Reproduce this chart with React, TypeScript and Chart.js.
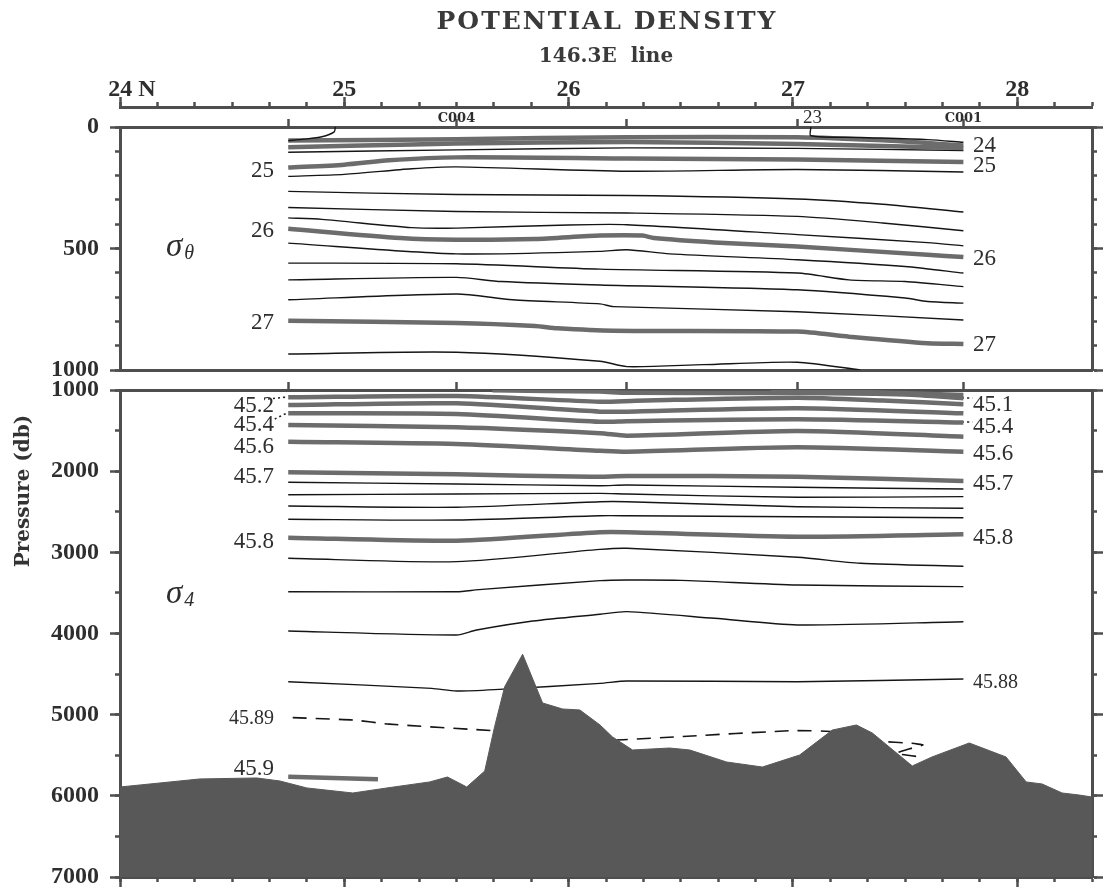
import React, { useEffect, useRef } from 'react';
import { Chart, registerables } from 'chart.js';

Chart.register(...registerables);

// ---------------- axes ----------------
const X_MIN = 24;
const X_MAX = 28 + 1 / 3;
const STATION_LATS = [24.75, 25.5, 26.26, 27.02, 27.76];
const STATION_LABELS = ['', 'C004', '', '', 'C001'];
const LAT_MAJOR = [24, 25, 26, 27, 28];
const LAT_LABELS = ['    24 N', '25', '26', '27', '28'];
const LAT_MINOR: number[] = [];
for (let i = 0; i <= 26; i++) LAT_MINOR.push(24 + i / 6);

const TOP_P_MIN = 0;
const TOP_P_MAX = 1000;
const TOP_TICKS_MINOR = [0, 100, 200, 300, 400, 500, 600, 700, 800, 900, 1000];
const TOP_TICKS_MAJOR = [0, 500, 1000];
const BOT_P_MIN = 1000;
const BOT_P_MAX = 7000;
const BOT_TICKS_MINOR = [1000, 1500, 2000, 2500, 3000, 3500, 4000, 4500, 5000, 5500, 6000, 6500, 7000];
const BOT_TICKS_MAJOR = [1000, 2000, 3000, 4000, 5000, 6000, 7000];

// ---------------- sigma-theta contours (lat, pressure) ----------------
type Pt = [number, number];
const SIG23_W: Pt[] = [[24.96, 0], [24.955, 20], [24.9, 40], [24.82, 50], [24.75, 56]];
const SIG23_E: Pt[] = [[27.08, 0], [27.08, 36], [27.3, 43], [27.6, 52], [27.76, 63]];
const SIG24_0: Pt[] = [[24.75, 56], [25.5, 50], [26.26, 42], [27.02, 42], [27.4, 55], [27.76, 76]];
const SIG24_5: Pt[] = [[24.75, 83], [25.3, 72], [25.5, 68], [26.26, 62], [27.02, 70], [27.4, 78], [27.76, 86]];
const SIG24_8: Pt[] = [[24.75, 104], [25.5, 94], [26.26, 86], [27.02, 88], [27.76, 97]];
const SIG25_0: Pt[] = [[24.75, 167], [25.0, 155], [25.2, 137], [25.5, 125], [26.26, 130], [27.02, 134], [27.76, 144]];
const SIG25_2: Pt[] = [[24.75, 203], [25.0, 195], [25.3, 172], [25.5, 164], [26.26, 182], [27.02, 175], [27.76, 185]];
const SIG25_4: Pt[] = [[24.75, 265], [25.5, 278], [26.26, 282], [27.02, 296], [27.4, 318], [27.76, 350]];
const SIG25_6: Pt[] = [[24.75, 331], [25.5, 348], [26.26, 354], [27.02, 368], [27.4, 395], [27.76, 427]];
const SIG25_8: Pt[] = [[24.75, 374], [24.9, 380], [25.3, 414], [25.5, 416], [26.0, 403], [26.26, 402], [27.02, 443], [27.6, 476], [27.76, 489]];
const SIG26_0: Pt[] = [[24.75, 419], [25.25, 457], [25.5, 464], [25.85, 461], [26.14, 447], [26.33, 447], [26.38, 457], [26.65, 475], [27.02, 492], [27.6, 526], [27.76, 535]];
const SIG26_2: Pt[] = [[24.75, 478], [25.5, 522], [26.14, 512], [26.26, 505], [26.45, 522], [27.02, 546], [27.5, 574], [27.76, 601]];
const SIG26_4: Pt[] = [[24.75, 560], [25.5, 563], [26.14, 585], [27.02, 601], [27.25, 629], [27.5, 636], [27.76, 657]];
const SIG26_6: Pt[] = [[24.75, 629], [25.5, 619], [25.7, 636], [26.14, 650], [27.02, 670], [27.5, 704], [27.6, 718], [27.76, 725]];
const SIG26_8: Pt[] = [[24.75, 711], [25.5, 687], [25.75, 711], [26.14, 728], [26.2, 739], [27.02, 760], [27.76, 794]];
const SIG27_0: Pt[] = [[24.75, 797], [25.5, 807], [25.85, 819], [25.95, 828], [26.2, 838], [27.02, 842], [27.25, 863], [27.6, 890], [27.76, 893]];
const SIG27_2: Pt[] = [[24.75, 934], [25.5, 927], [26.14, 964], [26.26, 986], [26.6, 978], [27.02, 968], [27.3, 1000]];

// ---------------- sigma-4 contours (lat, pressure) ----------------
const S45_1: Pt[] = [[25.66, 1004], [26.14, 1020], [26.26, 1035], [27.02, 1037], [27.5, 1055], [27.76, 1102]];
const S45_1B: Pt[] = [[26.9, 1012], [27.4, 1030], [27.76, 1062]];
const S45_2: Pt[] = [[24.75, 1090], [25.5, 1074], [26.14, 1144], [26.3, 1132], [27.02, 1095], [27.4, 1130], [27.76, 1176]];
const S45_3: Pt[] = [[24.75, 1185], [25.5, 1164], [26.14, 1267], [26.26, 1267], [27.02, 1225], [27.76, 1287]];
const S45_4: Pt[] = [[24.75, 1287], [25.5, 1296], [26.14, 1391], [26.26, 1385], [27.02, 1360], [27.76, 1400]];
const S45_5: Pt[] = [[24.75, 1431], [25.5, 1460], [26.14, 1533], [26.26, 1563], [27.02, 1505], [27.76, 1575]];
const S45_6: Pt[] = [[24.75, 1637], [25.5, 1665], [26.14, 1748], [26.26, 1760], [27.02, 1706], [27.76, 1760]];
const S45_7: Pt[] = [[24.75, 2014], [25.5, 2039], [26.1, 2070], [26.26, 2060], [27.02, 2068], [27.76, 2121]];
const S45_72: Pt[] = [[24.75, 2137], [25.5, 2158], [26.14, 2179], [26.26, 2170], [27.02, 2199], [27.76, 2220]];
const S45_74: Pt[] = [[24.75, 2290], [25.5, 2281], [26.14, 2273], [26.26, 2281], [27.02, 2322], [27.76, 2314]];
const S45_76: Pt[] = [[24.75, 2429], [25.5, 2445], [26.14, 2376], [26.26, 2376], [27.02, 2438], [27.76, 2457]];
const S45_78: Pt[] = [[24.75, 2593], [25.5, 2602], [26.14, 2549], [26.26, 2549], [27.02, 2561], [27.76, 2573]];
const S45_8: Pt[] = [[24.75, 2820], [25.5, 2857], [26.14, 2753], [26.26, 2753], [27.02, 2807], [27.76, 2778]];
const S45_82: Pt[] = [[24.75, 3073], [25.5, 3115], [26.14, 2963], [26.26, 2950], [27.02, 3061], [27.3, 3135], [27.76, 3172]];
const S45_84: Pt[] = [[24.75, 3485], [25.5, 3485], [25.6, 3460], [26.14, 3349], [26.26, 3341], [26.5, 3345], [27.02, 3402], [27.76, 3423]];
const S45_86: Pt[] = [[24.75, 3969], [25.5, 4018], [25.59, 3957], [25.84, 3846], [26.14, 3763], [26.26, 3731], [26.65, 3813], [27.02, 3895], [27.76, 3855]];
const S45_88: Pt[] = [[24.75, 4594], [25.39, 4676], [25.5, 4709], [25.69, 4688], [26.14, 4614], [26.26, 4585], [27.02, 4594], [27.76, 4561]];
const S45_89: Pt[] = [[24.77, 5037], [25.04, 5066], [25.2, 5117], [25.66, 5197], [26.0, 5260], [26.2, 5312], [26.49, 5271], [27.0, 5197], [27.18, 5210], [27.38, 5325], [27.53, 5353], [27.58, 5374], [27.52, 5420], [27.46, 5476], [27.58, 5525]];
const S45_9: Pt[] = [[24.75, 5764], [25.15, 5796]];

// label leaders (dotted)
const LEAD_L_452: Pt[] = [[24.66, 1111], [24.745, 1086]];
const LEAD_L_454: Pt[] = [[24.69, 1357], [24.745, 1283]];
const LEAD_R_451: Pt[] = [[27.754, 1099], [27.8, 1099]];
const LEAD_R_454: Pt[] = [[27.754, 1394], [27.8, 1394]];

// ---------------- bottom topography ----------------
const BATHY_LAT = [24.0, 24.356, 24.61, 24.713, 24.833, 25.038, 25.19, 25.38, 25.46, 25.546, 25.626, 25.67, 25.715, 25.795, 25.884, 25.973, 26.05, 26.14, 26.196, 26.285, 26.45, 26.54, 26.704, 26.864, 27.03, 27.176, 27.283, 27.354, 27.532, 27.62, 27.786, 27.95, 28.04, 28.111, 28.2, 28.276, 28.333];
const BATHY_P = [5891, 5792, 5780, 5817, 5903, 5965, 5903, 5829, 5768, 5891, 5694, 5148, 4655, 4256, 4856, 4930, 4942, 5127, 5275, 5435, 5411, 5435, 5583, 5645, 5497, 5189, 5127, 5226, 5632, 5521, 5349, 5521, 5829, 5854, 5965, 5990, 6014];

// ---------------- contour labels ----------------
const LABEL_LAT_L = 24.687;
const LABEL_LAT_R = 27.803;
const TOP_LBL_L = ['25', '26', '27'];
const TOP_LBL_L_P = [175, 423, 802];
const TOP_LBL_R = ['24', '25', '26', '27'];
const TOP_LBL_R_P = [72, 155, 538, 889];
const BOT_LBL_L = ['45.2', '45.4', '45.6', '45.7', '45.8', '45.89', '45.9'];
const BOT_LBL_L_P = [1172, 1407, 1678, 2047, 2848, 5029, 5645];
const BOT_LBL_R = ['45.1', '45.4', '45.6', '45.7', '45.8', '45.88'];
const BOT_LBL_R_P = [1160, 1431, 1764, 2133, 2799, 4585];

// ---------------- styles ----------------
const AX = '#4e4e4e';
const TXT = '#2e2e2e';
const SERIF = '"Liberation Serif", "Times New Roman", serif';
const TICK_FONT = 'Liberation Serif';
const BOLD_SERIF = 'DejaVu Serif';
const LBL_SIZE = 23;
const LBL_SIZE_SMALL = 20;

const STYLE: Record<string, any> = {
  thick: { borderColor: '#6c6c6c', borderWidth: 4.5 },
  thin: { borderColor: '#151515', borderWidth: 1.4 },
  dash: { borderColor: '#151515', borderWidth: 1.6, borderDash: [14, 9] },
  dot: { borderColor: '#222222', borderWidth: 1.6, borderDash: [2, 3] },
};

function lineDs(pts: Pt[], kind: string) {
  return {
    type: 'line',
    data: pts.map(([x, y]) => ({ x, y })),
    ...STYLE[kind],
    pointRadius: 0,
    fill: false,
    tension: kind === 'dash' ? 0.15 : 0.25,
    borderCapStyle: 'butt',
    borderJoinStyle: 'round',
    xAxisID: 'x',
    yAxisID: 'y',
  };
}

const border = { display: true, color: AX, width: 3 };
const fixedTicks = (values: number[]) => (s: any) => {
  s.ticks = values.map((v) => ({ value: v }));
};
const xBase = { type: 'linear', min: X_MIN, max: X_MAX };

function yScales(min: number, max: number, minor: number[], major: number[]) {
  const base = { type: 'linear', min, max, reverse: true };
  const grid = (len: number) => ({ drawOnChartArea: false, tickLength: len, tickWidth: 2.5, tickColor: AX });
  return {
    y: { ...base, position: 'left', weight: 0, afterBuildTicks: fixedTicks(minor), ticks: { display: false }, grid: grid(5), border, afterFit: (s: any) => { s.width = 0; } },
    yL: {
      ...base, position: 'left', weight: 1, afterBuildTicks: fixedTicks(major),
      ticks: { color: TXT, padding: 11, autoSkip: false, font: { family: TICK_FONT, size: 24, weight: 'bold' }, callback: (v: any) => String(v) },
      grid: grid(10), border,
      afterFit: (s: any) => { s.width = 120; s.paddingTop = 0; s.paddingBottom = 0; },
    },
    yR: { ...base, position: 'right', weight: 0, afterBuildTicks: fixedTicks(minor), ticks: { display: false }, grid: grid(5), border, afterFit: (s: any) => { s.width = 0; } },
    yR2: { ...base, position: 'right', weight: 1, afterBuildTicks: fixedTicks(major), ticks: { display: false }, grid: grid(11), border, afterFit: (s: any) => { s.width = 17; } },
  };
}

type Lbl = { text: string; lat: number; p: number; align: CanvasTextAlign; size: number; italic?: boolean; sub?: string; subSize?: number };

function makeTextPlugin(id: string, labels: Lbl[], extra: (ctx: CanvasRenderingContext2D) => void) {
  return {
    id,
    afterDatasetsDraw(chart: any) {
      const ctx = chart.ctx as CanvasRenderingContext2D;
      const xs = chart.scales.x;
      const ys = chart.scales.y;
      ctx.save();
      ctx.fillStyle = TXT;
      ctx.textBaseline = 'alphabetic';
      for (const l of labels) {
        const px = xs.getPixelForValue(l.lat);
        const py = ys.getPixelForValue(l.p);
        ctx.font = `${l.italic ? 'italic ' : ''}${l.size}px ${SERIF}`;
        ctx.textAlign = l.align;
        const base = py + l.size * (l.italic ? 0.26 : 0.33);
        ctx.fillText(l.text, px, base);
        if (l.sub) {
          const w = ctx.measureText(l.text).width;
          ctx.font = `${l.italic ? 'italic ' : ''}${l.subSize}px ${SERIF}`;
          ctx.textAlign = 'left';
          ctx.fillText(l.sub, px + w + 2, base + 3);
        }
      }
      extra(ctx);
      ctx.restore();
    },
  };
}

function leftRight(textsL: string[], pL: number[], textsR: string[], pR: number[], sizesL?: number[], sizesR?: number[]): Lbl[] {
  const out: Lbl[] = [];
  textsL.forEach((t, i) => out.push({ text: t, lat: LABEL_LAT_L, p: pL[i], align: 'right', size: sizesL ? sizesL[i] : LBL_SIZE }));
  textsR.forEach((t, i) => out.push({ text: t, lat: LABEL_LAT_R, p: pR[i], align: 'left', size: sizesR ? sizesR[i] : LBL_SIZE }));
  return out;
}

function topConfig(): any {
  const contours: [Pt[], string][] = [
    [SIG23_W, 'thin'], [SIG23_E, 'thin'], [SIG24_0, 'thick'], [SIG24_5, 'thick'], [SIG24_8, 'thin'],
    [SIG25_0, 'thick'], [SIG25_2, 'thin'], [SIG25_4, 'thin'], [SIG25_6, 'thin'], [SIG25_8, 'thin'],
    [SIG26_0, 'thick'], [SIG26_2, 'thin'], [SIG26_4, 'thin'], [SIG26_6, 'thin'], [SIG26_8, 'thin'],
    [SIG27_0, 'thick'], [SIG27_2, 'thin'],
  ];
  const labels = leftRight(TOP_LBL_L, TOP_LBL_L_P, TOP_LBL_R, TOP_LBL_R_P);
  labels.push({ text: '23', lat: 27.045, p: -43, align: 'left', size: 19 });
  labels.push({ text: 'σ', lat: 24.205, p: 497, align: 'left', size: 33, italic: true, sub: 'θ', subSize: 20 });
  const plugin = makeTextPlugin('topTexts', labels, (ctx) => {
    ctx.fillStyle = '#3a3a3a';
    ctx.textAlign = 'center';
    ctx.textBaseline = 'middle';
    (ctx as any).letterSpacing = '2px';
    ctx.font = `bold 25px "${BOLD_SERIF}"`;
    ctx.fillText('POTENTIAL DENSITY', 607, 22);
    (ctx as any).letterSpacing = '0px';
    ctx.font = `bold 20px "${BOLD_SERIF}"`;
    ctx.fillText('146.3E  line', 606, 57);
  });
  return {
    type: 'line',
    data: { datasets: contours.map(([p, k]) => lineDs(p, k)) },
    plugins: [plugin],
    options: {
      responsive: false,
      animation: false,
      events: [],
      layout: { padding: { top: 60, bottom: 522, left: 0, right: 0 } },
      plugins: { legend: { display: false }, tooltip: { enabled: false }, title: { display: false } },
      scales: {
        x: { ...xBase, position: 'bottom', weight: 0, ticks: { display: false }, grid: { drawOnChartArea: false, drawTicks: false }, border, afterFit: (s: any) => { s.height = 0; } },
        xSt: {
          ...xBase, position: 'top', weight: 0, afterBuildTicks: fixedTicks(STATION_LATS),
          ticks: { autoSkip: false, maxRotation: 0, padding: -7, color: TXT, font: { family: BOLD_SERIF, size: 13, weight: 'bold' }, callback: (_v: any, i: number) => STATION_LABELS[i] },
          grid: { drawOnChartArea: false, tickLength: 8, tickWidth: 2.5, tickColor: AX }, border, afterFit: (s: any) => { s.height = 20; },
        },
        xLatMinor: {
          ...xBase, position: 'top', weight: 1, afterBuildTicks: fixedTicks(LAT_MINOR), ticks: { display: false },
          grid: { drawOnChartArea: false, tickLength: 5, tickWidth: 2.5, tickColor: AX }, border, afterFit: (s: any) => { s.height = 0; },
        },
        xLatMajor: {
          ...xBase, position: 'top', weight: 2, afterBuildTicks: fixedTicks(LAT_MAJOR),
          ticks: { autoSkip: false, maxRotation: 0, padding: -7, color: TXT, font: { family: TICK_FONT, size: 24, weight: 'bold' }, callback: (_v: any, i: number) => LAT_LABELS[i] },
          grid: { drawOnChartArea: false, tickLength: 10, tickWidth: 2.5, tickColor: AX }, border,
          afterFit: (s: any) => { s.height = 47; s.paddingLeft = 0; s.paddingRight = 0; },
        },
        ...yScales(TOP_P_MIN, TOP_P_MAX, TOP_TICKS_MINOR, TOP_TICKS_MAJOR),
      },
    },
  };
}

function botConfig(): any {
  const contours: [Pt[], string][] = [
    [S45_1, 'thick'], [S45_1B, 'thick'], [S45_2, 'thick'], [S45_3, 'thick'], [S45_4, 'thick'], [S45_5, 'thick'],
    [S45_6, 'thick'], [S45_7, 'thick'], [S45_72, 'thin'], [S45_74, 'thin'], [S45_76, 'thin'], [S45_78, 'thin'],
    [S45_8, 'thick'], [S45_82, 'thin'], [S45_84, 'thin'], [S45_86, 'thin'], [S45_88, 'thin'], [S45_89, 'dash'],
    [S45_9, 'thick'], [LEAD_L_452, 'dot'], [LEAD_L_454, 'dot'], [LEAD_R_451, 'dot'], [LEAD_R_454, 'dot'],
  ];
  const bathy = {
    type: 'line',
    data: BATHY_LAT.map((x, i) => ({ x, y: BATHY_P[i] })),
    borderColor: '#585858',
    backgroundColor: '#585858',
    borderWidth: 1,
    pointRadius: 0,
    tension: 0,
    fill: { value: BOT_P_MAX },
    xAxisID: 'x',
    yAxisID: 'y',
  };
  const labels = leftRight(
    BOT_LBL_L, BOT_LBL_L_P, BOT_LBL_R, BOT_LBL_R_P,
    [LBL_SIZE, LBL_SIZE, LBL_SIZE, LBL_SIZE, LBL_SIZE, LBL_SIZE_SMALL, LBL_SIZE],
    [LBL_SIZE, LBL_SIZE, LBL_SIZE, LBL_SIZE, LBL_SIZE, LBL_SIZE_SMALL],
  );
  labels.push({ text: 'σ', lat: 24.205, p: 3513, align: 'left', size: 33, italic: true, sub: '4', subSize: 20 });
  const plugin = makeTextPlugin('botTexts', labels, (ctx) => {
    ctx.save();
    ctx.translate(24, 491);
    ctx.rotate(-Math.PI / 2);
    ctx.fillStyle = '#333';
    ctx.textAlign = 'center';
    ctx.textBaseline = 'middle';
    ctx.font = `bold 20px "${BOLD_SERIF}"`;
    ctx.fillText('Pressure (db)', 0, 0);
    ctx.restore();
  });
  return {
    type: 'line',
    data: { datasets: [bathy, ...contours.map(([p, k]) => lineDs(p, k))] },
    plugins: [plugin],
    options: {
      responsive: false,
      animation: false,
      events: [],
      layout: { padding: { top: 382, bottom: 0, left: 0, right: 0 } },
      plugins: { legend: { display: false }, tooltip: { enabled: false }, title: { display: false } },
      scales: {
        x: {
          ...xBase, position: 'bottom', weight: 0, afterBuildTicks: fixedTicks(LAT_MINOR), ticks: { display: false },
          grid: { drawOnChartArea: false, tickLength: 5, tickWidth: 2.5, tickColor: AX }, border, afterFit: (s: any) => { s.height = 0; },
        },
        xB2: {
          ...xBase, position: 'bottom', weight: 1, afterBuildTicks: fixedTicks(LAT_MAJOR), ticks: { display: false },
          grid: { drawOnChartArea: false, tickLength: 10, tickWidth: 2.5, tickColor: AX }, border, afterFit: (s: any) => { s.height = 15; },
        },
        xSt: {
          ...xBase, position: 'top', weight: 0, afterBuildTicks: fixedTicks(STATION_LATS), ticks: { display: false },
          grid: { drawOnChartArea: false, tickLength: 8, tickWidth: 2.5, tickColor: AX }, border, afterFit: (s: any) => { s.height = 8; },
        },
        ...yScales(BOT_P_MIN, BOT_P_MAX, BOT_TICKS_MINOR, BOT_TICKS_MAJOR),
      },
    },
  };
}

export default function App() {
  const topRef = useRef<HTMLCanvasElement>(null);
  const botRef = useRef<HTMLCanvasElement>(null);
  useEffect(() => {
    const c1 = new Chart(topRef.current as HTMLCanvasElement, topConfig());
    const c2 = new Chart(botRef.current as HTMLCanvasElement, botConfig());
    return () => {
      c1.destroy();
      c2.destroy();
    };
  }, []);
  return (
    <div style={{ position: 'absolute', left: 0, top: 0, width: 1109, height: 892, background: '#fff', overflow: 'hidden' }}>
      <canvas ref={topRef} width={1109} height={892} style={{ position: 'absolute', left: 0, top: 0 }} />
      <canvas ref={botRef} width={1109} height={892} style={{ position: 'absolute', left: 0, top: 0 }} />
    </div>
  );
}
